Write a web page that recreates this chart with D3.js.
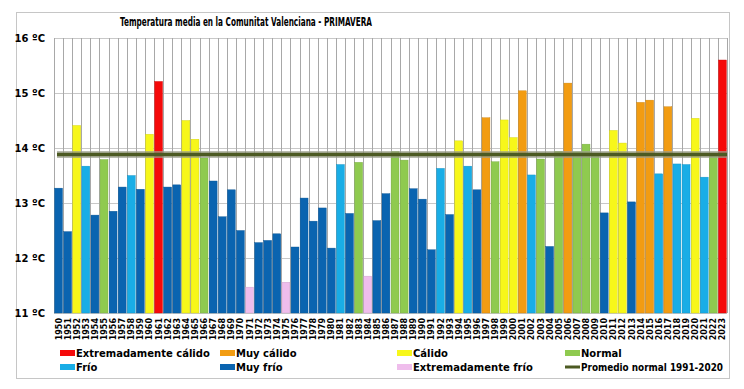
<!DOCTYPE html>
<html>
<head>
<meta charset="utf-8">
<script src="https://cdn.jsdelivr.net/npm/d3@7"></script>
<style>
  body { margin: 0; background: #fff; }
  svg { display: block; }
</style>
</head>
<body>
<div id="chart"></div>
<script>
// data
const years = d3.range(1950, 2024);
const temps = [13.27, 12.48, 14.41, 13.67, 12.78, 13.79, 12.85, 13.29, 13.50, 13.25,
    14.25, 15.21, 13.29, 13.33, 14.50, 14.16, 13.82, 13.40, 12.75, 13.24,
    12.50, 11.47, 12.28, 12.32, 12.44, 11.56, 12.20, 13.09, 12.67, 12.91,
    12.18, 13.70, 12.81, 13.74, 11.67, 12.68, 13.17, 13.94, 13.78, 13.26,
    13.07, 12.15, 13.63, 12.79, 14.13, 13.67, 13.24, 14.55, 13.75, 14.51,
    14.19, 15.04, 13.51, 13.80, 12.21, 13.94, 15.18, 13.93, 14.07, 13.88,
    12.82, 14.32, 14.09, 13.02, 14.83, 14.87, 13.53, 14.75, 13.71, 13.70,
    14.54, 13.47, 13.89, 15.60];
const classes = ["MF", "MF", "C", "F", "MF", "N", "MF", "MF", "F", "MF",
    "C", "EC", "MF", "MF", "C", "C", "N", "MF", "MF", "MF",
    "MF", "EF", "MF", "MF", "MF", "EF", "MF", "MF", "MF", "MF",
    "MF", "F", "MF", "N", "EF", "MF", "MF", "N", "N", "MF",
    "MF", "MF", "F", "MF", "C", "F", "MF", "MC", "N", "C",
    "C", "MC", "F", "N", "MF", "N", "MC", "N", "N", "N",
    "MF", "C", "C", "MF", "MC", "MC", "F", "MC", "F", "F",
    "C", "F", "N", "EC"];
const normal = 13.88;
const yTicks = [11, 12, 13, 14, 15, 16];

const classKeys = ["EC", "MC", "C", "N", "F", "MF", "EF"];
const classNames = ["Extremadamente cálido", "Muy cálido", "Cálido", "Normal",
    "Frío", "Muy frío", "Extremadamente frío"];
const classColors = ["#f50a0a", "#f29c12", "#f7f71a", "#8fca4f", "#19ade6", "#0a64b0", "#efbdec"];

const width = 744, height = 389;
const plot = { left: 54, right: 727, top: 38, bottom: 313 };

const data = years.map((y, i) => ({ year: y, t: temps[i], c: classes[i] }));

const svg = d3.select("#chart").append("svg")
    .attr("width", width)
    .attr("height", height);

svg.append("rect").attr("width", width).attr("height", height).attr("fill", "#fff");

// frame
svg.append("rect")
    .attr("x", 16.5).attr("y", 12.5)
    .attr("width", 713).attr("height", 366)
    .attr("fill", "none")
    .attr("stroke", "#c6c6c6");

let x = d3.scaleBand()
    .domain(years)
    .range([plot.left, plot.right])
    .paddingInner(0.13)
    .paddingOuter(0.065);

let y = d3.scaleLinear()
    .domain([11, 16])
    .range([plot.bottom, plot.top]);

let color = d3.scaleOrdinal().domain(classKeys).range(classColors);

// horizontal grid
svg.append("g")
    .selectAll("line")
    .data(yTicks)
    .enter().append("line")
    .attr("x1", plot.left).attr("x2", plot.right)
    .attr("y1", d => Math.round(y(d)) + 0.5)
    .attr("y2", d => Math.round(y(d)) + 0.5)
    .attr("stroke", "#c8c8c8");

// vertical grid at slot edges
const step = x.step();
const x0 = x(years[0]) - step * x.paddingInner() / 2;
svg.append("g")
    .selectAll("line")
    .data(d3.range(years.length + 1))
    .enter().append("line")
    .attr("x1", i => Math.round(x0 + i * step) + 0.5)
    .attr("x2", i => Math.round(x0 + i * step) + 0.5)
    .attr("y1", plot.top).attr("y2", plot.bottom)
    .attr("stroke", "#a8a8a8");

// bars
svg.append("g")
    .selectAll("rect")
    .data(data)
    .enter().append("rect")
    .attr("x", d => x(d.year))
    .attr("y", d => y(d.t))
    .attr("width", x.bandwidth())
    .attr("height", d => y(11) - y(d.t))
    .attr("fill", d => color(d.c))
    .attr("stroke", d => d3.color(color(d.c)).darker(0.5))
    .attr("stroke-width", 0.4);

// normal line
svg.append("line")
    .attr("x1", plot.left + 3).attr("x2", plot.right)
    .attr("y1", y(normal)).attr("y2", y(normal))
    .attr("stroke", "#9a9e8c")
    .attr("stroke-opacity", 0.7)
    .attr("stroke-width", 7);
svg.append("line")
    .attr("x1", plot.left + 3).attr("x2", plot.right)
    .attr("y1", y(normal)).attr("y2", y(normal))
    .attr("stroke", "#4c5a22")
    .attr("stroke-width", 3.5);

// y axis labels
svg.append("g")
    .selectAll("text")
    .data(yTicks)
    .enter().append("text")
    .attr("x", 45)
    .attr("y", d => y(d) + 4)
    .attr("text-anchor", "end")
    .style("font", "bold 10px 'DejaVu Sans'")
    .text(d => d + " ºC");

// year labels
svg.append("g")
    .selectAll("text")
    .data(years)
    .enter().append("text")
    .attr("transform", d => `translate(${x(d) + x.bandwidth() / 2 + 3}, ${plot.bottom + 5}) rotate(-90)`)
    .attr("text-anchor", "end")
    .style("font", "bold 8px 'DejaVu Sans'")
    .text(d => d);

// title
svg.append("text")
    .attr("x", 246)
    .attr("y", 26)
    .attr("text-anchor", "middle")
    .style("font", "bold 12.5px 'DejaVu Sans Condensed', 'DejaVu Sans'")
    .style("font-stretch", "condensed")
    .attr("textLength", 252)
    .attr("lengthAdjust", "spacingAndGlyphs")
    .text("Temperatura media en la Comunitat Valenciana - PRIMAVERA");

// legend
const legendItems = classKeys.map((k, i) => ({ name: classNames[i], color: classColors[i], line: false }));
legendItems.push({ name: "Promedio normal 1991-2020", color: "#4c5a22", line: true });
const legendCols = [76, 236, 413, 581];
const legendRows = [353, 367];

let legend = svg.append("g")
    .selectAll("g")
    .data(legendItems)
    .enter().append("g")
    .attr("transform", (d, i) => `translate(${legendCols[i % 4]}, ${legendRows[Math.floor(i / 4)]})`);

legend.append("rect")
    .attr("x", -16)
    .attr("y", d => d.line ? -1.5 : -3)
    .attr("width", 15)
    .attr("height", d => d.line ? 3 : 6)
    .attr("fill", d => d.color);

legend.append("text")
    .attr("x", 0)
    .attr("y", 4)
    .style("font", "bold 10px 'DejaVu Sans'")
    .text(d => d.name)
    .filter(d => d.line)
    .attr("textLength", 142)
    .attr("lengthAdjust", "spacingAndGlyphs");
</script>
</body>
</html>
